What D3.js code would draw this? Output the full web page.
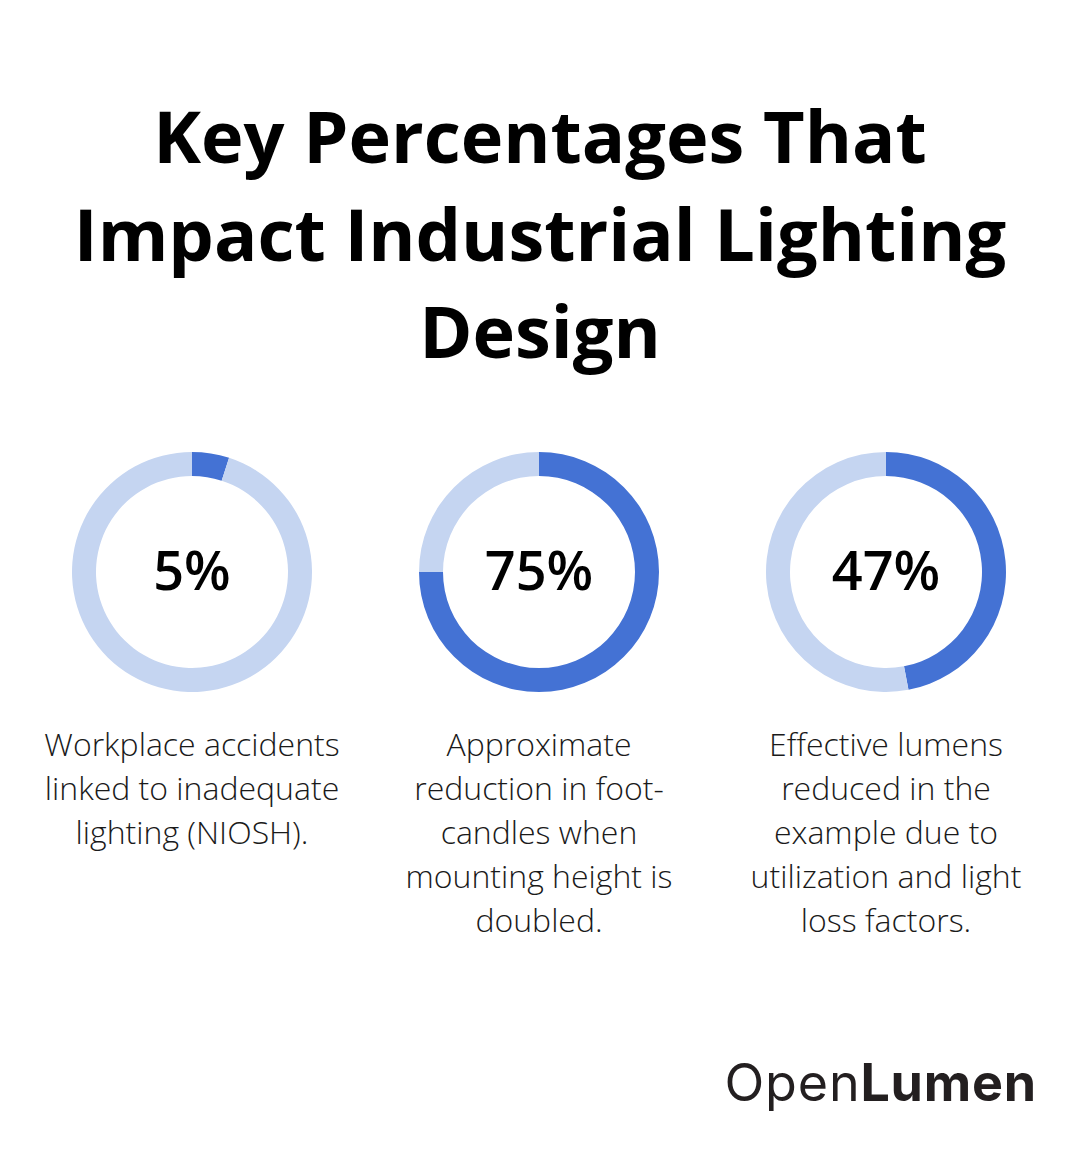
<!DOCTYPE html>
<html>
<head>
<meta charset="utf-8">
<script src="https://cdn.jsdelivr.net/npm/d3@7"></script>
<style>
  body { margin: 0; background: #fff; }
  svg { display: block; }
</style>
</head>
<body>
<div id="chart"></div>
<script>
// data
const titleLines = ["Key Percentages That", "Impact Industrial Lighting", "Design"];
const percents = [5, 75, 47];
const captions = [
    ["Workplace accidents", "linked to inadequate", "lighting (NIOSH)."],
    ["Approximate", "reduction in foot-", "candles when", "mounting height is", "doubled."],
    ["Effective lumens", "reduced in the", "example due to", "utilization and light", "loss factors."]
];

const width = 1080;
const height = 1168;

const svg = d3.select("#chart")
    .append("svg")
    .attr("width", width)
    .attr("height", height);

svg.append("rect").attr("width", width).attr("height", height).attr("fill", "#fff");

// title
svg.append("g")
    .selectAll("text")
    .data(titleLines)
    .enter()
    .append("text")
    .attr("x", width / 2)
    .attr("y", (d, i) => 163 + i * 97.5)
    .attr("text-anchor", "middle")
    .style("font-family", "'Open Sans', sans-serif")
    .style("font-weight", 700)
    .style("font-size", "72px")
    .attr("fill", "#000")
    .text(d => d);

// donuts
const x = d3.scalePoint()
    .domain(d3.range(percents.length))
    .range([192, 886]);

const cy = 572;
const outerR = 120;
const innerR = 96;

const arc = d3.arc().innerRadius(innerR).outerRadius(outerR);
const pie = d3.pie().sort(null).value(d => d);

const groups = svg.selectAll("g.donut")
    .data(percents)
    .enter()
    .append("g")
    .attr("class", "donut")
    .attr("transform", (d, i) => `translate(${x(i)}, ${cy})`);

groups.selectAll("path")
    .data(d => pie([d, 100 - d]))
    .enter()
    .append("path")
    .attr("d", arc)
    .attr("fill", (d, i) => i === 0 ? "#4472D4" : "#C5D5F1");

groups.append("text")
    .attr("text-anchor", "middle")
    .attr("y", 18)
    .style("font-family", "'Open Sans', sans-serif")
    .style("font-weight", 600)
    .style("font-size", "54px")
    .attr("fill", "#000")
    .text(d => d + "%");

// captions
captions.forEach((lines, i) => {
    svg.append("g")
        .selectAll("text")
        .data(lines)
        .enter()
        .append("text")
        .attr("x", x(i))
        .attr("y", (d, j) => 756 + j * 44)
        .attr("text-anchor", "middle")
        .style("font-family", "'Open Sans', sans-serif")
        .style("font-weight", 300)
        .style("font-size", "32px")
        .attr("fill", "#1a1a1a")
        .text(d => d);
});

// logo
const logo = svg.append("text")
    .attr("x", 1037)
    .attr("y", 1101)
    .attr("text-anchor", "end")
    .style("font-family", "Inter, 'Noto Sans', sans-serif")
    .style("font-size", "52px")
    .style("letter-spacing", "0.8px")
    .attr("fill", "#231f20");
logo.append("tspan").style("font-weight", 400).text("Open");
logo.append("tspan").style("font-weight", 700).text("Lumen");
</script>
</body>
</html>
